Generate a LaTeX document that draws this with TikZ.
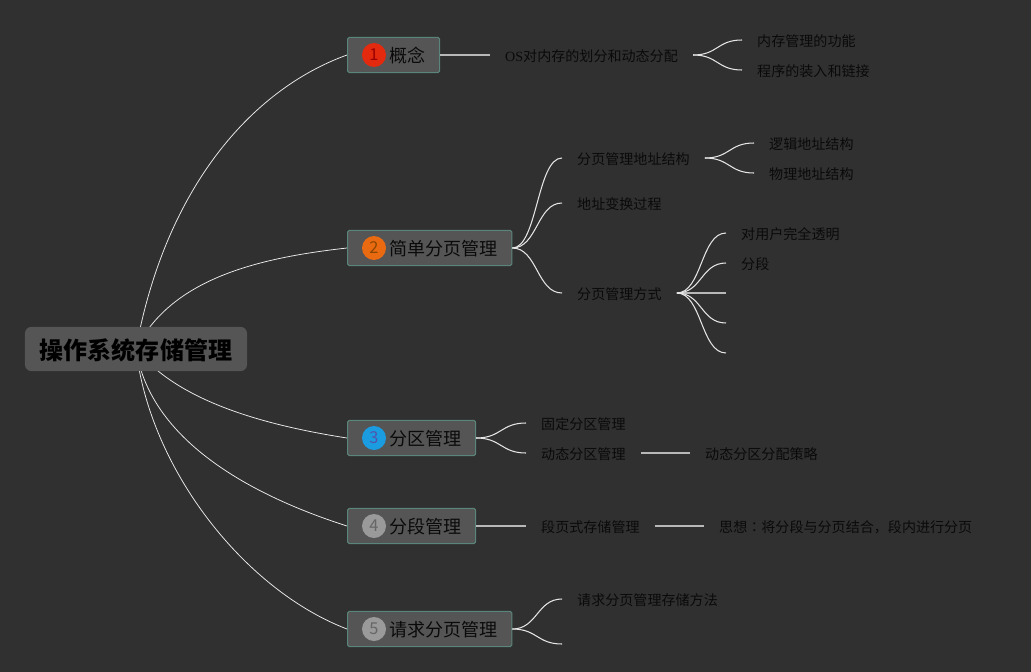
\documentclass[tikz,border=0pt]{standalone}
\usepackage{fontspec}
\setmainfont{Noto Sans CJK SC}
\newfontfamily\osfont{Liberation Serif}
\newfontfamily\colonfont{Noto Sans CJK TC}
\usetikzlibrary{backgrounds}
\definecolor{canvas}{HTML}{303030}
\definecolor{boxfill}{HTML}{555555}
\definecolor{boxline}{HTML}{5A857A}
\definecolor{inktext}{HTML}{0A0A0A}
\definecolor{redbadge}{HTML}{E32A0E}
\definecolor{orangebadge}{HTML}{EA6A12}
\definecolor{bluebadge}{HTML}{1B9BE0}
\definecolor{greybadge}{HTML}{9A9A9A}
\tikzset{
  rootbox/.style={fill=boxfill, rounded corners=.2cm, inner xsep=.45cm, minimum height=1.33cm,
    text height=19.8pt, text depth=2.5pt, text=black, font=\fontsize{20.5}{24}\selectfont\bfseries},
  topic/.style={draw=boxline, line width=.9pt, fill=boxfill, rounded corners=.05cm, anchor=west,
    minimum height=1.06cm, inner xsep=.42cm, text height=15.2pt, text depth=1.85pt, text=inktext,
    font=\fontsize{15.4}{18}\selectfont, execute at begin node={\hspace*{.84cm}}},
  badge/.style={circle, fill=#1, inner sep=0pt, minimum size=.72cm, font=\fontsize{14}{16}\selectfont},
  leaf/.style={anchor=west, inner xsep=.45cm, inner ysep=0pt, text height=13.4pt, text depth=2pt,
    text=inktext, font=\fontsize{12}{14}\selectfont},
  trunk/.style={draw=white!92!black, line width=.65pt},
  branch/.style={draw=white!90!black, line width=.9pt},
  stem/.style={draw=white!72!black, line width=1.5pt}
}
\begin{document}
\begin{tikzpicture}[x=.03cm, y=-.03cm]
  \useasboundingbox (0, 0) rectangle (1031, 672);
  % main topics
  \node [rootbox] (root) at (136, 349) {操作系统存储管理};
  \node [topic] (concept) at (347, 55) {概念};
  \node [topic] (paging) at (347, 248) {简单分页管理};
  \node [topic] (partition) at (347, 438) {分区管理};
  \node [topic] (segment) at (347, 526) {分段管理};
  \node [topic] (demand) at (347, 629) {请求分页管理};
  \node [badge=redbadge, text=red!60!black] (one) at (374, 55) {1};
  \node [badge=orangebadge, text=orange!55!black] (two) at (374, 248) {2};
  \node [badge=bluebadge, text=blue!35!gray] (three) at (374, 438) {3};
  \node [badge=greybadge, text=black!60] (four) at (374, 526) {4};
  \node [badge=greybadge, text=black!60] (five) at (374, 629) {5};
  % first topic
  \node [leaf] (division) at (490, 55) {{\osfont OS}对内存的划分和动态分配};
  \node [leaf] (function) at (742, 40) {内存管理的功能};
  \node [leaf] (loading) at (742, 70) {程序的装入和链接};
  % second topic
  \node [leaf] (structure) at (562, 158) {分页管理地址结构};
  \node [leaf] (logical) at (754, 143) {逻辑地址结构};
  \node [leaf] (physical) at (754, 173) {物理地址结构};
  \node [leaf] (convert) at (562, 203) {地址变换过程};
  \node [leaf] (manner) at (562, 293) {分页管理方式};
  \node [leaf] (opaque) at (726, 233) {对用户完全透明};
  \node [leaf] (split) at (726, 263) {分段};
  \coordinate (blanka) at (726, 293);
  \coordinate (blankb) at (726, 323);
  \coordinate (blankc) at (726, 353);
  % third and fourth topic
  \node [leaf] (fixed) at (526, 423) {固定分区管理};
  \node [leaf] (dynamic) at (526, 453) {动态分区管理};
  \node [leaf] (strategy) at (690, 453) {动态分区分配策略};
  \node [leaf] (mixed) at (526, 526) {段页式存储管理};
  \node [leaf] (idea) at (704, 526) {思想{\colonfont ：}将分段与分页结合，段内进行分页};
  % fifth topic
  \node [leaf] (method) at (562, 599) {请求分页管理存储方法};
  \coordinate (blankd) at (562, 644);
  \begin{scope}[on background layer]
    \fill [canvas] (0, 0) rectangle (1031, 672);
    \draw [trunk] (root.center) .. controls +(29, -159) and +(-97, 35) .. (concept.west);
    \draw [trunk] (root.center) .. controls +(35, -70) and +(-90, 10) .. (paging.west);
    \draw [trunk] (root.center) .. controls +(40, 50) and +(-90, -14) .. (partition.west);
    \draw [trunk] (root.center) .. controls +(14, 91) and +(-97, -31) .. (segment.west);
    \draw [trunk] (root.center) .. controls +(14, 121) and +(-102, -39) .. (demand.west);
  \end{scope}
  \draw [stem] (concept.east) -- (division.west);
  \draw [stem] (segment.east) -- (mixed.west);
  \draw [stem] (dynamic.east) -- (strategy.west);
  \draw [stem] (mixed.east) -- (idea.west);
  \draw [stem] (manner.east) -- (blanka);
  \foreach \from/\to in {division/function, division/loading, structure/logical, structure/physical,
    paging/structure, paging/convert, paging/manner, manner/opaque, manner/split,
    partition/fixed, partition/dynamic, demand/method}
    \draw [branch] (\from.east) .. controls +(25, 0) and +(-25, 0) .. (\to.west);
  \draw [branch] (manner.east) .. controls +(25, 0) and +(-25, 0) .. (blankb);
  \draw [branch] (manner.east) .. controls +(25, 0) and +(-25, 0) .. (blankc);
  \draw [branch] (demand.east) .. controls +(25, 0) and +(-25, 0) .. (blankd);
\end{tikzpicture}
\end{document}
